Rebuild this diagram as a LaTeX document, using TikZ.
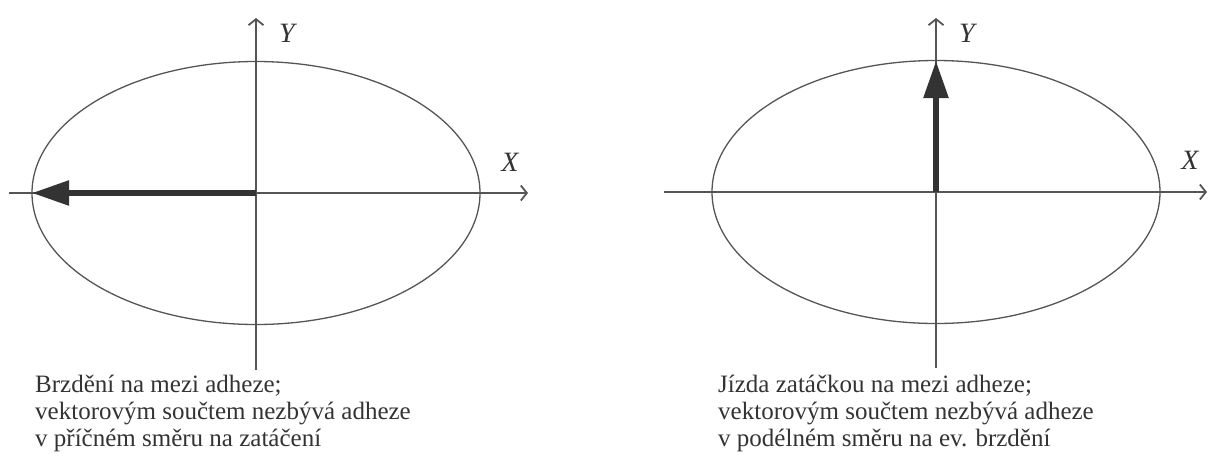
\documentclass[tikz,border=0pt]{standalone}
\usepackage{fontspec}
\setmainfont{Liberation Serif}
\usetikzlibrary{arrows.meta}
\definecolor{ink}{HTML}{333333}
\definecolor{axisc}{HTML}{555555}
\tikzset{
  axis/.style={draw=axisc,line width=1.2pt,-{Straight Barb[length=6pt,width=15pt,line width=1.8pt]}},
  curve/.style={draw=axisc,line width=1.3pt},
  force/.style={draw=ink,line width=5.5pt,-{Triangle[length=37pt,width=24pt]}},
  lbl/.style={font=\fontsize{28}{28}\selectfont\itshape,text=ink,inner sep=0pt},
  caption/.style={font=\fontsize{25}{27}\selectfont,text=ink,align=left,inner sep=0pt,anchor=north west},
}
\begin{document}
\begin{tikzpicture}[x=1pt,y=-1pt]
\useasboundingbox (0,0) rectangle (1209,464);
% braking
\coordinate (o1) at (256,193);
\coordinate (x1a) at (9,193);
\coordinate (x1b) at (528,193);
\coordinate (y1a) at (256,370);
\coordinate (y1b) at (256,18);
\coordinate (f1) at (32,193);
\draw[curve] (o1) ellipse [x radius=224, y radius=131.5];
\draw[axis] (x1a) -- (x1b);
\draw[axis] (y1a) -- (y1b);
\draw[force] (o1) -- (f1);
\node[lbl] (ly1) at (287,33) {Y};
\node[lbl] (lx1) at (510,162) {X};
\node[caption] (c1) at (35,375) {Brzdění na mezi adheze;\\vektorovým součtem nezbývá adheze\\v příčném směru na zatáčení};
% cornering
\coordinate (o2) at (936,192);
\coordinate (x2a) at (664,192);
\coordinate (x2b) at (1207,192);
\coordinate (y2a) at (936,368);
\coordinate (y2b) at (936,18);
\coordinate (f2) at (936,61);
\draw[curve] (o2) ellipse [x radius=224, y radius=131.5];
\draw[axis] (x2a) -- (x2b);
\draw[axis] (y2a) -- (y2b);
\draw[force] (o2) -- (f2);
\node[lbl] (ly2) at (967,33) {Y};
\node[lbl] (lx2) at (1190,160) {X};
\node[caption] (c2) at (718,375) {Jízda zatáčkou na mezi adheze;\\vektorovým součtem nezbývá adheze\\v podélném směru na ev. brzdění};
\end{tikzpicture}
\end{document}
